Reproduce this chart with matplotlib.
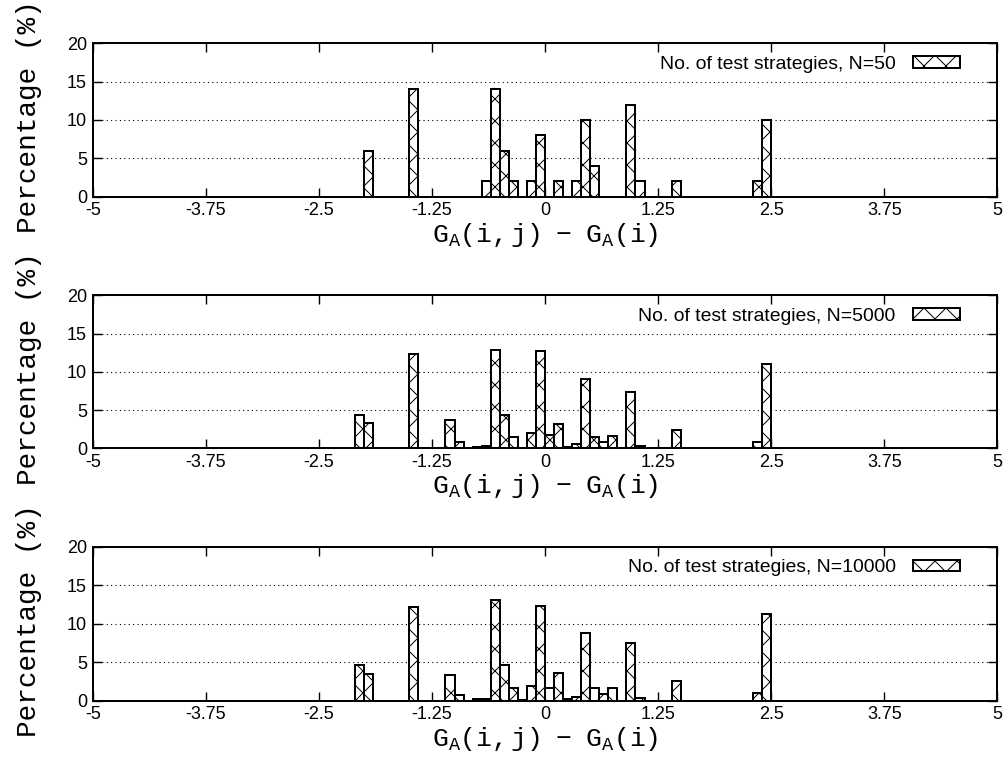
import matplotlib
matplotlib.use("Agg")
import matplotlib.pyplot as plt
import numpy as np

# Left edges of the 0.1-wide bins of G_A(i,j) - G_A(i)
bin_left = [-2.1, -2.0, -1.5, -1.1, -1.0, -0.8, -0.7, -0.6, -0.5, -0.4, -0.3,
            -0.2, -0.1, 0.0, 0.1, 0.2, 0.3, 0.4, 0.5, 0.6, 0.7, 0.9, 1.0,
            1.4, 2.3, 2.4]

# Percentage of strategies falling in each bin
pct_n50 = [0, 6, 14, 0, 0, 0, 2, 14, 6, 2, 0, 2, 8, 0, 2, 0, 2, 10, 4, 0, 0,
           12, 2, 2, 2, 10]
pct_n5000 = [4.4, 3.3, 12.3, 3.7, 0.8, 0.15, 0.25, 12.85, 4.4, 1.5, 0.05,
             1.95, 12.7, 1.8, 3.2, 0.2, 0.5, 9.0, 1.5, 0.8, 1.6, 7.4, 0.3,
             2.4, 0.8, 11.0]
pct_n10000 = [4.6, 3.5, 12.2, 3.3, 0.8, 0.25, 0.2, 13.1, 4.6, 1.6, 0.1, 1.9,
              12.3, 1.6, 3.6, 0.2, 0.5, 8.75, 1.7, 0.9, 1.7, 7.45, 0.4, 2.5,
              1.0, 11.2]

series_labels = ["No. of test strategies, N=50",
                 "No. of test strategies, N=5000",
                 "No. of test strategies, N=10000"]
x_ticks = [-5, -3.75, -2.5, -1.25, 0, 1.25, 2.5, 3.75, 5]
x_tick_labels = ["-5", "-3.75", "-2.5", "-1.25", "0", "1.25", "2.5", "3.75", "5"]
y_ticks = [0, 5, 10, 15, 20]

# Work in pixels: the lower dpi gives a tighter cross-hatch
DPI = 66
P = 72.0 / DPI  # points per pixel

plt.rcParams["font.family"] = ["Liberation Sans", "DejaVu Sans"]
plt.rcParams["mathtext.fontset"] = "custom"
plt.rcParams["mathtext.rm"] = "Liberation Mono"
plt.rcParams["mathtext.it"] = "Liberation Mono"
plt.rcParams["mathtext.tt"] = "Liberation Mono"
plt.rcParams["hatch.linewidth"] = 1.0 * P

W, H = 1008, 769
fig = plt.figure(figsize=(W / DPI, H / DPI), dpi=DPI)

# axes frames in pixel coordinates: (left, top, right, bottom)
frames = [(92.7, 43.3, 997.3, 196.7),
          (92.7, 295.3, 997.3, 448.3),
          (92.7, 546.7, 997.3, 700.7)]

all_series = [pct_n50, pct_n5000, pct_n10000]

for (l, t, r, b), pct, lab in zip(frames, all_series, series_labels):
    ax = fig.add_axes([l / W, 1 - b / H, (r - l) / W, (b - t) / H])
    x = np.array(bin_left)
    y = np.array(pct, dtype=float)
    keep = y > 0
    ax.bar(x[keep], y[keep], width=0.1, align="edge", facecolor="white",
           edgecolor="black", hatch="x", linewidth=2.0 * P, label=lab,
           zorder=2)
    ax.set_xlim(-5, 5)
    ax.set_ylim(0, 20)
    ax.set_xticks(x_ticks)
    ax.set_xticklabels(x_tick_labels)
    ax.set_yticks(y_ticks)
    ax.tick_params(axis="both", direction="in", length=9 * P, width=1.4 * P,
                   labelsize=18 * P, pad=5.6 * P)
    ax.tick_params(axis="x", top=True)
    ax.tick_params(axis="y", right=True)
    for sp in ax.spines.values():
        sp.set_linewidth(2.0 * P)
    ax.yaxis.grid(True, color="black", linestyle=(0, (1, 3)),
                  linewidth=1.1 * P)
    ax.set_axisbelow(True)
    ax.set_xlabel(r"$\mathrm{G_A(i,j)\ \ -\ \ G_A(i)}$", fontsize=26.4 * P,
                  labelpad=1.5 * P)
    ax.legend(loc="upper right", bbox_to_anchor=(1 - 25 / (r - l), 1.0),
              frameon=False, markerfirst=False, fontsize=19.4 * P,
              handlelength=2.4, handleheight=0.5, handletextpad=0.9,
              borderaxespad=0.0, borderpad=0.65)
    fig.text(29 / W, 1 - ((t + b) / 2 - 3) / H, "Percentage (%)",
             rotation=90, ha="center", va="center", fontsize=27.8 * P,
             family="Liberation Mono")

fig.savefig("out.png", dpi=DPI)
